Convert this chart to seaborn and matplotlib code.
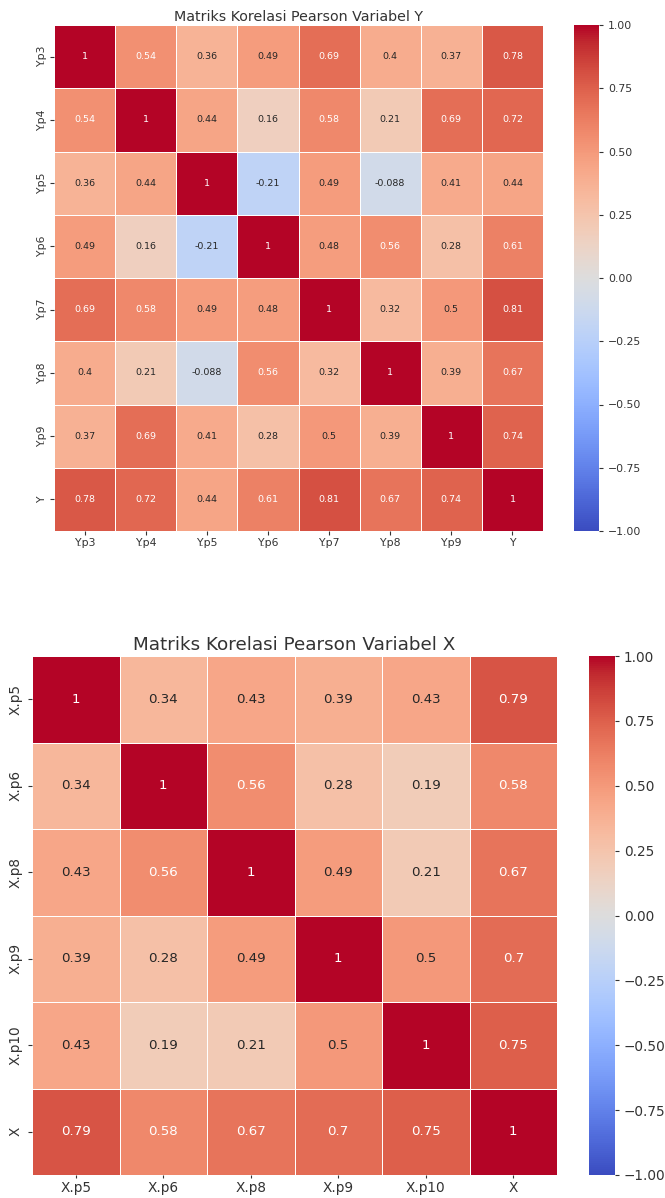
import numpy as np
import pandas as pd
import matplotlib
matplotlib.use("Agg")
import matplotlib.pyplot as plt
import seaborn as sns

# correlation matrix for variable Y
y_labels = ['Y.p3', 'Y.p4', 'Y.p5', 'Y.p6', 'Y.p7', 'Y.p8', 'Y.p9', 'Y']
y_corr = [
    [1, 0.54, 0.36, 0.49, 0.69, 0.4, 0.37, 0.78],
    [0.54, 1, 0.44, 0.16, 0.58, 0.21, 0.69, 0.72],
    [0.36, 0.44, 1, -0.21, 0.49, -0.088, 0.41, 0.44],
    [0.49, 0.16, -0.21, 1, 0.48, 0.56, 0.28, 0.61],
    [0.69, 0.58, 0.49, 0.48, 1, 0.32, 0.5, 0.81],
    [0.4, 0.21, -0.088, 0.56, 0.32, 1, 0.39, 0.67],
    [0.37, 0.69, 0.41, 0.28, 0.5, 0.39, 1, 0.74],
    [0.78, 0.72, 0.44, 0.61, 0.81, 0.67, 0.74, 1],
]

# correlation matrix for variable X
x_labels = ['X.p5', 'X.p6', 'X.p8', 'X.p9', 'X.p10', 'X']
x_corr = [
    [1, 0.34, 0.43, 0.39, 0.43, 0.79],
    [0.34, 1, 0.56, 0.28, 0.19, 0.58],
    [0.43, 0.56, 1, 0.49, 0.21, 0.67],
    [0.39, 0.28, 0.49, 1, 0.5, 0.7],
    [0.43, 0.19, 0.21, 0.5, 1, 0.75],
    [0.79, 0.58, 0.67, 0.7, 0.75, 1],
]

y_df = pd.DataFrame(y_corr, index=y_labels, columns=y_labels)
x_df = pd.DataFrame(x_corr, index=x_labels, columns=x_labels)

W, H = 665, 1198
fig = plt.figure(figsize=(W / 100, H / 100), dpi=100)


def box(x0, y0, x1, y1):
    # pixel box -> figure fraction
    return [x0 / W, 1 - y1 / H, (x1 - x0) / W, (y1 - y0) / H]


def recolor(ax, values):
    # white text on the darker cells, dark text elsewhere
    flat = np.asarray(values, dtype=float).ravel()
    for t, v in zip(ax.texts, flat):
        t.set_color('white' if v >= 0.52 else '#262626')


# top heatmap (Y)
ax1 = fig.add_axes(box(54, 25, 543, 531))
cax1 = fig.add_axes(box(574, 25, 599, 531))
sns.heatmap(y_df, annot=True, cmap='coolwarm', vmin=-1, vmax=1, linewidths=0.5,
            linecolor='white', ax=ax1, cbar_ax=cax1, annot_kws={'fontsize': 6.8})
recolor(ax1, y_corr)
ax1.set_title('Matriks Korelasi Pearson Variabel Y', fontsize=10.3, pad=3, color='#333333')
ax1.tick_params(labelsize=7.8, length=3, pad=2, colors='#333333')
cax1.tick_params(labelsize=7.8, length=3, colors='#333333')

# bottom heatmap (X)
ax2 = fig.add_axes(box(32, 656, 557, 1175))
cax2 = fig.add_axes(box(589, 656, 615, 1175))
sns.heatmap(x_df, annot=True, cmap='coolwarm', vmin=-1, vmax=1, linewidths=0.7,
            linecolor='white', ax=ax2, cbar_ax=cax2, annot_kws={'fontsize': 9.6})
recolor(ax2, x_corr)
ax2.set_title('Matriks Korelasi Pearson Variabel X', fontsize=13.2, pad=4, color='#333333')
ax2.tick_params(labelsize=9.8, length=3, colors='#333333')
ax2.tick_params(axis='x', length=2.5, pad=1.5)
cax2.tick_params(labelsize=9.8, length=3, colors='#333333')

fig.savefig('out.png', dpi=100)
